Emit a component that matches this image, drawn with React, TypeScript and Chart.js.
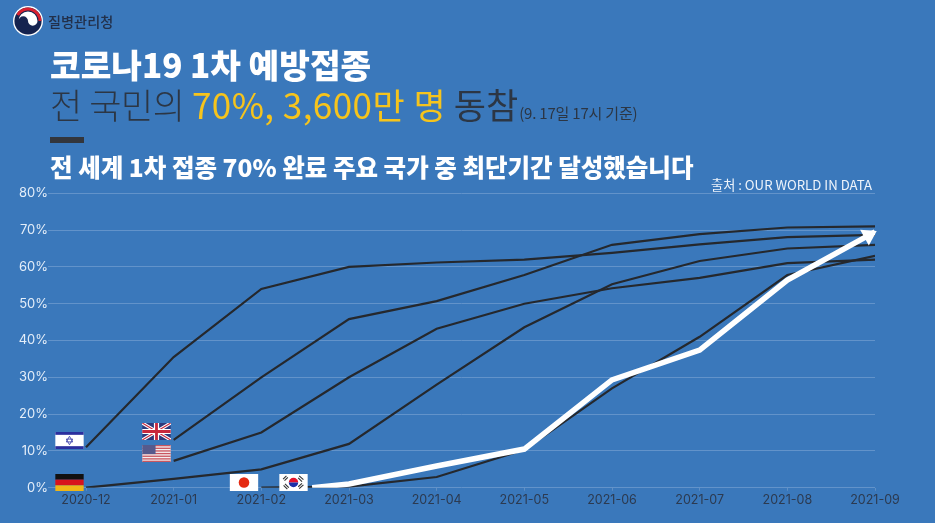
import React, { useEffect, useRef } from "react";
import { Chart, registerables } from "chart.js";

Chart.register(...registerables);

const categories = ["2020-12", "2021-01", "2021-02", "2021-03", "2021-04", "2021-05", "2021-06", "2021-07", "2021-08", "2021-09"];
const yTicks = [0, 10, 20, 30, 40, 50, 60, 70, 80];

// x positions are month indexes into categories; Korea starts part-way through 2021-02
const israelX = [0, 1, 2, 3, 4, 5, 6, 7, 8, 9];
const israelY = [11, 35.5, 54, 60, 61.2, 62, 63.8, 66.1, 68.1, 68.7];
const ukX = [1, 2, 3, 4, 5, 6, 7, 8, 9];
const ukY = [13, 30, 45.8, 50.7, 57.8, 66, 68.9, 70.7, 71];
const usX = [1, 2, 3, 4, 5, 6, 7, 8, 9];
const usY = [7.3, 15, 30, 43.2, 50, 54.2, 57, 61, 62];
const germanyX = [0, 1, 2, 3, 4, 5, 6, 7, 8, 9];
const germanyY = [0, 2.4, 5, 11.9, 28, 43.6, 55.3, 61.6, 65, 66];
const japanX = [2, 3, 4, 5, 6, 7, 8, 9];
const japanY = [0, 0.3, 2.9, 10.3, 27, 41, 57.8, 63];
const koreaX = [2.58, 3, 4, 5, 6, 7, 8, 9];
const koreaY = [0, 1, 5.9, 10.5, 29.3, 37.4, 56.4, 69.5];

const zip = (xs: number[], ys: number[]) => xs.map((x, i) => ({ x, y: ys[i] }));

const BG = "#3a78bb";
const DARK = "#25282d";
const FONT = '"Noto Sans CJK KR", "Noto Sans", sans-serif';

const arrowHead = {
  id: "arrowHead",
  afterDatasetsDraw(chart: any) {
    const pts = chart.getDatasetMeta(0).data;
    const a = pts[pts.length - 2];
    const b = pts[pts.length - 1];
    const ang = Math.atan2(b.y - a.y, b.x - a.x);
    const { ctx } = chart;
    ctx.save();
    ctx.translate(b.x, b.y);
    ctx.rotate(ang);
    ctx.fillStyle = "#ffffff";
    ctx.beginPath();
    ctx.moveTo(2, 0);
    ctx.lineTo(-12, -9);
    ctx.lineTo(-12, 9);
    ctx.closePath();
    ctx.fill();
    ctx.restore();
  },
};

const Box: React.FC<{ x: number; y: number; w: number; h: number; children: React.ReactNode }> = ({ x, y, w, h, children }) => (
  <svg style={{ position: "absolute", left: x, top: y }} width={w} height={h} viewBox="0 0 30 18">
    {children}
  </svg>
);

const Israel = () => (
  <Box x={55} y={432} w={29} h={17}>
    <rect width="30" height="18" fill="#fff" />
    <rect y="0" width="30" height="3" fill="#2a2f9e" />
    <rect y="15" width="30" height="3" fill="#2a2f9e" />
    <path d="M15 4.5 L18.4 10.5 H11.6 Z M15 13.5 L11.6 7.5 H18.4 Z" fill="none" stroke="#4a50b0" strokeWidth="1" />
  </Box>
);
const UK = () => (
  <Box x={142} y={423} w={29} h={17}>
    <rect width="30" height="18" fill="#2c3a7c" />
    <path d="M0 0 L30 18 M30 0 L0 18" stroke="#fff" strokeWidth="3.4" />
    <path d="M0 0 L30 18 M30 0 L0 18" stroke="#c8283c" strokeWidth="1.2" />
    <path d="M15 0 V18 M0 9 H30" stroke="#fff" strokeWidth="5.5" />
    <path d="M15 0 V18 M0 9 H30" stroke="#c8283c" strokeWidth="3" />
  </Box>
);
const US = () => (
  <Box x={142} y={445} w={29} h={17}>
    <rect width="30" height="18" fill="#f4f0f0" />
    {[0, 2.8, 5.6, 8.4, 11.2, 14, 16.6].map((y) => (
      <rect key={y} y={y} width="30" height="1.4" fill="#c9565f" />
    ))}
    <rect width="14" height="9.6" fill="#565a8c" />
  </Box>
);
const Germany = () => (
  <Box x={55} y={474} w={29} h={17}>
    <rect width="30" height="6" fill="#111" />
    <rect y="6" width="30" height="6" fill="#d8121c" />
    <rect y="12" width="30" height="6" fill="#f0b616" />
  </Box>
);
const Japan = () => (
  <Box x={229} y={474} w={30} h={17}>
    <rect width="30" height="18" fill="#fff" />
    <circle cx="15" cy="9" r="5.6" fill="#e52a12" />
  </Box>
);
const Korea = () => (
  <Box x={279} y={474} w={29} h={17}>
    <rect width="30" height="18" fill="#fff" />
    <path d="M10 9 A5 5 0 0 1 20 9 Z" fill="#e3122c" />
    <path d="M10 9 A5 5 0 0 0 20 9 Z" fill="#1a2fa8" />
    <path d="M4 5.5 L7.5 2 M5.5 7 L9 3.5 M21 2 L25.5 6 M20 4 L24 8 M4.5 12 L8.5 16 M6 10.5 L10 14.5 M21 15.5 L25.5 11.5 M20 13.5 L24 10" stroke="#333" strokeWidth="1.2" />
  </Box>
);

const Logo = () => (
  <svg style={{ position: "absolute", left: 13, top: 6 }} width={30} height={30} viewBox="0 0 30 30">
    <circle cx="15" cy="15" r="15" fill="#fff" />
    <circle cx="15" cy="15" r="13.6" fill="#15234f" />
    <path d="M4.6 9 A12 12 0 0 1 27 15" fill="none" stroke="#d8202f" strokeWidth="3" />
    <path d="M5.5 15 A9.5 9.5 0 0 1 24.5 15 A4.75 4.75 0 0 1 15 15 A4.75 4.75 0 0 0 5.5 15 Z" fill="#fff" />
  </svg>
);

const text = (left: number, top: number, size: number, weight: number, color: string): React.CSSProperties => ({
  position: "absolute",
  left,
  top,
  fontSize: size,
  fontWeight: weight,
  color,
  lineHeight: 1,
  whiteSpace: "nowrap",
  fontFamily: FONT,
});

export default function App() {
  const ref = useRef<HTMLCanvasElement>(null);
  useEffect(() => {
    const line = (label: string, data: { x: number; y: number }[]) => ({
      label,
      data,
      borderColor: DARK,
      borderWidth: 2.2,
      pointRadius: 0,
      tension: 0,
    });
    const chart = new Chart(ref.current!, {
      type: "line",
      plugins: [arrowHead],
      data: {
        datasets: [
          { ...line("대한민국", zip(koreaX, koreaY)), borderColor: "#ffffff", borderWidth: 5.5 },
          line("이스라엘", zip(israelX, israelY)),
          line("영국", zip(ukX, ukY)),
          line("미국", zip(usX, usY)),
          line("독일", zip(germanyX, germanyY)),
          line("일본", zip(japanX, japanY)),
        ],
      },
      options: {
        animation: false,
        responsive: false,
        layout: { padding: { left: 0, right: 60, top: 193.3, bottom: 0 } },
        plugins: { legend: { display: false }, tooltip: { enabled: false } },
        scales: {
          x: {
            type: "linear",
            min: -0.4335,
            max: 9,
            afterBuildTicks: (s: any) => {
              s.ticks = categories.map((_, i) => ({ value: i }));
            },
            afterFit: (s: any) => {
              s.height = 35.3;
            },
            border: { display: false },
            grid: { drawOnChartArea: false, drawTicks: true, tickLength: 3, color: "#5f8fc4", offset: false },
            ticks: {
              autoSkip: false,
              maxRotation: 0,
              padding: 2,
              color: "#2c3a50",
              font: { family: "Inter", size: 12.5 },
              callback: (v: any) => categories[v as number] ?? "",
            },
          },
          y: {
            min: 0,
            max: 80,
            afterBuildTicks: (s: any) => {
              s.ticks = yTicks.map((value) => ({ value }));
            },
            afterFit: (s: any) => {
              s.width = 48;
            },
            border: { display: false },
            grid: { color: "#6293ca", lineWidth: 1, drawTicks: false },
            ticks: {
              padding: 0,
              color: "#e4eef9",
              font: { family: "Inter", size: 13 },
              callback: (v: any) => `${v}%`,
            },
          },
        },
      },
    } as any);
    return () => chart.destroy();
  }, []);

  return (
    <div style={{ position: "fixed", left: 0, top: 0, width: 935, height: 523, background: BG, overflow: "hidden" }}>
      <canvas ref={ref} width={935} height={523} style={{ position: "absolute", left: 0, top: 0, width: 935, height: 523 }} />
      <Logo />
      <div style={text(48, 14, 14.2, 500, "#22304a")}>질병관리청</div>
      <div style={text(50, 47, 33.3, 900, "#ffffff")}>코로나19 1차 예방접종</div>
      <div style={text(50, 86, 35, 300, "#2c3644")}>
        <span style={{ letterSpacing: -0.4 }}>전 국민의 </span>
        <span style={{ color: "#f6c41c", fontWeight: 400, letterSpacing: 0.45 }}>70%, 3,600만 명</span>{" "}
        <span style={{ fontWeight: 400 }}>동참</span>
        <span style={{ fontSize: 15, marginLeft: 1, fontWeight: 400, letterSpacing: -0.2 }}>(9. 17일 17시 기준)</span>
      </div>
      <div style={{ position: "absolute", left: 50, top: 137, width: 34, height: 6, background: "#33363c" }} />
      <div style={text(50, 155, 24.5, 900, "#ffffff")}>전 세계 1차 접종 70% 완료 주요 국가 중 최단기간 달성했습니다</div>
      <div style={text(711, 178, 13.2, 400, "#eef4fb")}>출처 : OUR WORLD IN DATA</div>
      <Israel />
      <UK />
      <US />
      <Germany />
      <Japan />
      <Korea />
    </div>
  );
}
